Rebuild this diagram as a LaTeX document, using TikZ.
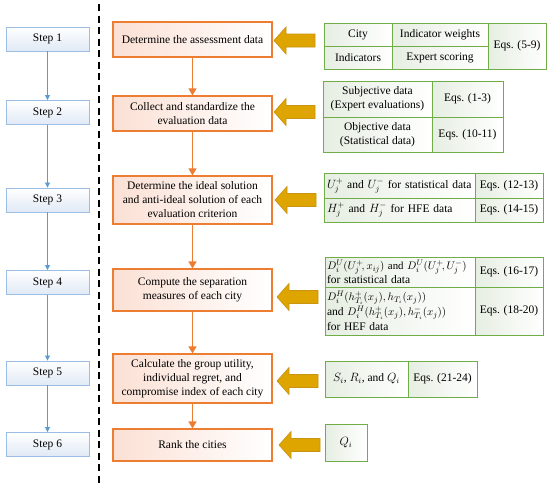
\documentclass[tikz,border=0pt]{standalone}
\usepackage{fontspec}
\setmainfont{Liberation Serif}
\usetikzlibrary{arrows.meta}
\definecolor{orc}{RGB}{237,125,49}
\definecolor{orfill}{RGB}{251,224,212}
\definecolor{blc}{RGB}{91,155,213}
\definecolor{blbord}{RGB}{157,190,228}
\definecolor{blfill}{RGB}{224,233,245}
\definecolor{grc}{RGB}{112,173,71}
\definecolor{grfill}{RGB}{230,238,226}
\definecolor{goldc}{RGB}{222,164,0}
\definecolor{golde}{RGB}{200,148,20}
\newcommand{\goldarr}[2]{%
  \filldraw[fill=goldc, draw=golde, line width=0.6pt, line join=miter]
  (#1,#2) -- ++(12,-13.5) -- ++(0,7) -- ++(29,0) -- ++(0,13) -- ++(-29,0) -- ++(0,7) -- cycle;}
\begin{document}
\begin{tikzpicture}[x=1pt,y=-1pt, font=\fontsize{11.5}{14}\selectfont,
  stepbox/.style={draw=blbord, line width=0.9pt, top color=white, bottom color=blfill,
    minimum width=83pt, minimum height=24pt, inner sep=0pt},
  procbox/.style={draw=orc, line width=1.1pt, left color=orfill, right color=white,
    minimum width=159pt, align=center, inner sep=0pt},
  cellc/.style={draw=grc, line width=1pt, left color=grfill, right color=white,
    inner sep=0pt, align=center},
  leftcell/.style={cellc, align=left, text width=#1, inner xsep=3pt},
  orarrow/.style={draw=orc, line width=1.2pt, -{Triangle[width=8pt,length=7pt]}},
  blarrow/.style={draw=blc, line width=0.8pt, -{Triangle[width=5pt,length=5pt]}}]
\useasboundingbox (0,0) rectangle (550,491);
\fill[white] (0,0) rectangle (550,491);

% dashed divider
\coordinate (dtop) at (99,4);
\coordinate (dbot) at (99,486);
\draw[line width=1.4pt, dash pattern=on 7pt off 4.5pt] (dtop) -- (dbot);

% step boxes
\node[stepbox] (s1) at (47.5,39) {Step 1};
\node[stepbox] (s2) at (47.5,112.5) {Step 2};
\node[stepbox] (s3) at (47.5,200) {Step 3};
\node[stepbox] (s4) at (47.5,282.5) {Step 4};
\node[stepbox] (s5) at (47.5,373) {Step 5};
\node[stepbox] (s6) at (47.5,444.5) {Step 6};
\foreach \a/\b in {s1/s2,s2/s3,s3/s4,s4/s5,s5/s6}
  \draw[blarrow] (\a) -- (\b);

% process boxes
\node[procbox, minimum height=35pt] (b1) at (192.5,39.5) {Determine the assessment data};
\node[procbox, minimum height=35pt] (b2) at (192.5,113.5) {Collect and standardize the\\evaluation data};
\node[procbox, minimum height=48pt] (b3) at (192.5,200) {Determine the ideal solution\\and anti-ideal solution of each\\evaluation criterion};
\node[procbox, minimum height=42pt] (b4) at (192.5,290) {Compute the separation\\measures of each city};
\node[procbox, minimum height=49pt] (b5) at (192.5,378.5) {Calculate the group utility,\\individual regret, and\\compromise index of each city};
\node[procbox, minimum height=32pt] (b6) at (192.5,445) {Rank the cities};
\foreach \a/\b in {b1/b2,b2/b3,b3/b4,b4/b5,b5/b6}
  \draw[orarrow] (\a) -- (\b);

% gold arrows
\goldarr{274}{40.5}
\goldarr{274}{112}
\goldarr{275}{200}
\goldarr{277}{297}
\goldarr{277}{381}
\goldarr{279}{445}

% table 1
\node[cellc, minimum width=68pt, minimum height=23pt] (t1a) at (358,34.5) {City};
\node[cellc, minimum width=96pt, minimum height=23pt] (t1b) at (440,34.5) {Indicator weights};
\node[cellc, minimum width=68pt, minimum height=23pt] (t1c) at (358,57.5) {Indicators};
\node[cellc, minimum width=96pt, minimum height=23pt] (t1d) at (440,57.5) {Expert scoring};
\node[cellc, minimum width=58pt, minimum height=46pt] (t1e) at (517,46) {Eqs. (5-9)};

% table 2
\node[cellc, minimum width=109pt, minimum height=36pt] (t2a) at (377.5,99) {Subjective data\\(Expert evaluations)};
\node[cellc, minimum width=71pt, minimum height=36pt] (t2b) at (467.5,99) {Eqs. (1-3)};
\node[cellc, minimum width=109pt, minimum height=35pt] (t2c) at (377.5,134.5) {Objective data\\(Statistical data)};
\node[cellc, minimum width=71pt, minimum height=35pt] (t2d) at (467.5,134.5) {Eqs. (10-11)};

% table 3
\node[leftcell=145pt, minimum height=25pt] (t3a) at (399.5,185.5) {$U_j^+$ and $U_j^-$ for statistical data};
\node[cellc, minimum width=68pt, minimum height=25pt] (t3b) at (509,185.5) {Eqs. (12-13)};
\node[leftcell=145pt, minimum height=24pt] (t3c) at (399.5,210) {$H_j^+$ and $H_j^-$ for HFE data};
\node[cellc, minimum width=68pt, minimum height=24pt] (t3d) at (509,210) {Eqs. (14-15)};

% table 4
\node[leftcell=146pt, inner xsep=2pt, minimum height=30pt, font=\fontsize{10.8}{12.5}\selectfont] (t4a) at (400,272)
  {$D_i^U(U_j^+\!,x_{ij})$ and $D_i^U(U_j^+\!,U_j^-)$\\{\fontsize{11.5}{12.5}\selectfont for statistical data}};
\node[cellc, minimum width=68pt, minimum height=30pt] (t4b) at (509,272) {Eqs. (16-17)};
\node[leftcell=146pt, inner xsep=2pt, minimum height=48pt, font=\fontsize{10.8}{15}\selectfont] (t4c) at (400,311)
  {$D_i^H(h_{T_i}^+(x_j),h_{T_i}(x_j))$\\{\fontsize{11.5}{15}\selectfont and} $D_i^H(h_{T_i}^+(x_j),h_{T_i}^-(x_j))$\\{\fontsize{11.5}{15}\selectfont for HEF data}};
\node[cellc, minimum width=68pt, minimum height=48pt] (t4d) at (509,311) {Eqs. (18-20)};

% table 5
\node[cellc, minimum width=83pt, minimum height=36pt] (t5a) at (366.5,379) {$S_i$, $R_i$, and $Q_i$};
\node[cellc, minimum width=69pt, minimum height=36pt] (t5b) at (442.5,379) {Eqs. (21-24)};

% table 6
\node[cellc, minimum width=42pt, minimum height=37pt] (t6a) at (346,442.5) {$Q_i$};
\end{tikzpicture}
\end{document}
